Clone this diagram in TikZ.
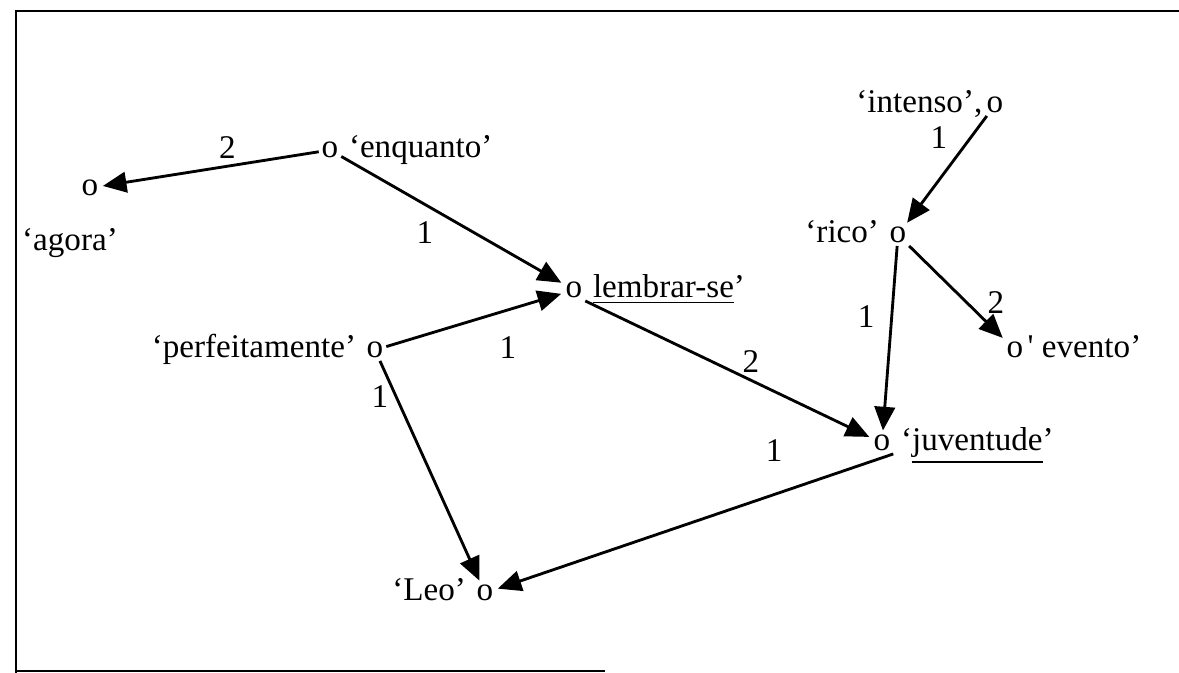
\documentclass[tikz,border=0pt]{standalone}
\usepackage{fontspec}
\setmainfont{Liberation Serif}
\usetikzlibrary{positioning, arrows.meta}

\begin{document}
\begin{tikzpicture}[x=0.317pt, y=-0.317pt, line width=.9pt,
  every node/.style={font=\fontsize{10.5}{12}\selectfont}]
\tikzset{
  vtx/.style={inner sep=0.5pt},
  word/.style={inner sep=0pt},
  arc/.style={-{Triangle[length=7.5pt, width=6.5pt]}, shorten >=0.5pt},
  num/.style={inner sep=2pt}
}
\useasboundingbox (0,0) rectangle (1179,673);
% Frame
\draw[line width=.7pt] (1179,11) -- (16,11) -- (16,673);
\draw[line width=.7pt] (16,671) -- (605,671);
% Points
\node[vtx] (int) at (995,105) {o};
\node[vtx] (enq) at (330,150) {o};
\node[vtx] (ag) at (90,188) {o};
\node[vtx] (rico) at (898,235) {o};
\node[vtx] (lem) at (574,290) {o};
\node[vtx] (perf) at (375,350) {o};
\node[vtx] (ev) at (1015,350) {o};
\node[vtx] (juv) at (882,443) {o};
\node[vtx] (leo) at (485,593) {o};
% Text nodes
\node[word, base left=0pt of int] (intlbl) {‘intenso’,};
\node[word, base right=2pt of enq] (enqlbl) {‘enquanto’};
\node[word] (aglbl) at (70,243) {‘agora’};
\node[word, base left=2pt of rico] (ricolbl) {‘rico’};
\node[word, base right=2pt of lem] (lemlbl) {\underline{lembrar-se}’};
\node[word, base left=2pt of perf] (perflbl) {‘perfeitamente’};
\node[word, base right=0pt of ev] (evlbl) {\textquotesingle\ evento’};
\node[word, base right=2pt of juv] (juvlbl) {‘\underline{juventude}’};
\node[word, base left=2pt of leo] (leolbl) {‘Leo’};
% Relations
\draw[arc] (enq) -- node[num, pos=.42, above] {2} (ag);
\draw[arc] (enq) -- node[num, pos=.45, below left] {1} (lem);
\draw[arc] (perf) -- node[num, pos=.69, below=6pt] {1} (lem);
\draw[arc] (perf) -- node[num, pos=.16, left] {1} (leo);
\draw[arc] (lem.south east) -- node[num, pos=.58, above] {2} (juv);
\draw[arc] (juv.south east) -- node[num, pos=.3, above=8pt] {1} (leo);
\draw[arc] (int) -- node[num, pos=.2, left=5pt] {1} (rico);
\draw[arc] (rico) -- node[num, pos=.38, left=3pt] {1} (juv);
\draw[arc] (rico) -- node[num, pos=.78, above right, inner sep=1pt] {2} (ev);
\end{tikzpicture}
\end{document}
